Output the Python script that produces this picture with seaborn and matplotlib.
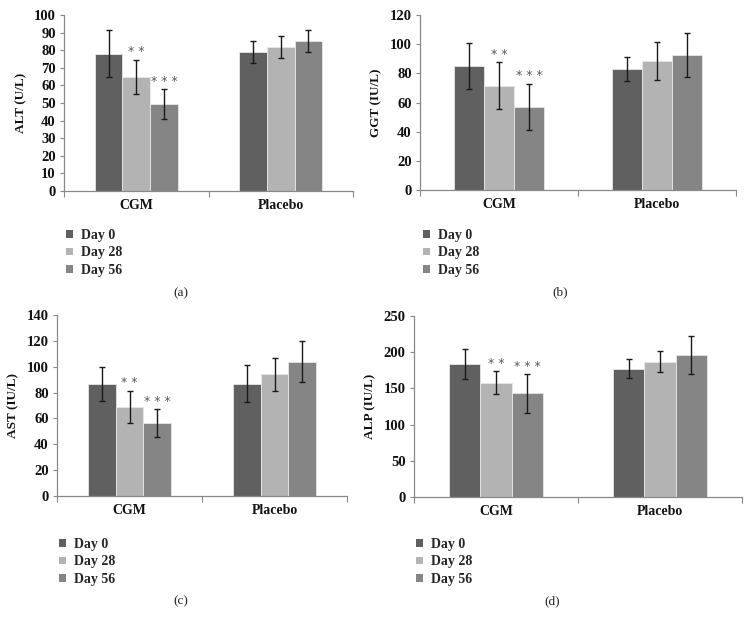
import matplotlib
matplotlib.use("Agg")
import matplotlib.pyplot as plt
import seaborn as sns
import pandas as pd
from matplotlib.patches import Patch

groups = ["CGM", "Placebo"]
days = ["Day 0", "Day 28", "Day 56"]

alt_mean = [78, 65, 49.5, 79, 82, 85]
alt_sd = [13.3, 9.7, 8.5, 6, 6.2, 6.2]
ggt_mean = [85, 71.5, 57, 83, 88.5, 92.5]
ggt_sd = [16, 16, 16, 8.5, 13, 15]
ast_mean = [86.5, 69, 56.5, 87, 94, 104]
ast_sd = [13, 12.5, 10.5, 14.5, 12.5, 16]
alp_mean = [184, 158, 143, 177, 187, 196]
alp_sd = [21, 15.5, 27, 13, 14, 26.5]

sig_marks = ["", "* *", "* * *"]  # CGM only

ylabels = ["ALT (U/L)", "GGT (IU/L)", "AST (IU/L)", "ALP (IU/L)"]
ylims = [100, 120, 140, 250]
ysteps = [10, 20, 20, 50]
captions = ["(a)", "(b)", "(c)", "(d)"]

palette = ["#606060", "#b3b3b3", "#858585"]

sns.set_theme(style="white")
plt.rcParams["font.family"] = ["Liberation Serif", "DejaVu Serif"]

W, H = 750, 626
fig = plt.figure(figsize=(W / 100, H / 100), dpi=100)

# axes boxes in pixels: left, right, top, bottom
boxes = [(64, 353, 15, 191), (420, 736, 15, 190), (57, 347, 315, 496), (414, 742, 316, 497)]
legend_pos = [(59, 222), (416, 222), (52, 531), (409, 531)]
caption_pos = [(181, 293), (560, 292), (181, 601), (552, 601)]

datasets = [(alt_mean, alt_sd), (ggt_mean, ggt_sd), (ast_mean, ast_sd), (alp_mean, alp_sd)]

for k, ((means, sds), box) in enumerate(zip(datasets, boxes)):
    l, r, t, b = box
    ax = fig.add_axes([l / W, 1 - b / H, (r - l) / W, (b - t) / H])
    df = pd.DataFrame({
        "group": [g for g in groups for _ in days],
        "day": [d for _ in groups for d in days],
        "value": means,
        "sd": sds,
    })
    sns.barplot(data=df, x="group", y="value", hue="day", order=groups, hue_order=days,
                palette=palette, width=0.575, errorbar=None, ax=ax, legend=False,
                edgecolor="#e8e8e8", linewidth=0.6, saturation=1)
    bar_conts = list(ax.containers)
    for i, cont in enumerate(bar_conts):
        for j, bar in enumerate(cont):
            row = df[(df.group == groups[j]) & (df.day == days[i])].iloc[0]
            xc = bar.get_x() + bar.get_width() / 2
            ax.errorbar(xc, row.value, yerr=row.sd, fmt="none", ecolor="#1a1a1a",
                        elinewidth=1.0, capsize=2.0, capthick=1.0)
            if j == 0 and sig_marks[i]:
                ax.annotate(sig_marks[i], (xc, row.value + row.sd), xytext=(0, 1.0),
                            textcoords="offset points", ha="center", va="bottom",
                            fontsize=9, color="#5a5a5a", family="DejaVu Sans")
    ax.set_xlim(-0.5, 1.5)
    ax.set_ylim(0, ylims[k])
    ax.set_yticks(range(0, ylims[k] + 1, ysteps[k]))
    ax.set_xticks([0, 1])
    ax.set_xticks([-0.5, 0.5, 1.5], minor=True)
    ax.tick_params(axis="x", which="major", length=0, labelsize=10, pad=6)
    ax.tick_params(axis="x", which="minor", length=4, width=0.8, color="#888888", direction="out", bottom=True)
    ax.tick_params(axis="y", length=3, width=0.8, color="#888888", direction="out", labelsize=10.5, pad=3, left=True)
    for lab in ax.get_xticklabels() + ax.get_yticklabels():
        lab.set_fontweight("bold")
        lab.set_color("#111111")
    for s in ["top", "right"]:
        ax.spines[s].set_visible(False)
    for s in ["left", "bottom"]:
        ax.spines[s].set_color("#888888")
        ax.spines[s].set_linewidth(0.9)
    ax.set_xlabel("")
    ax.set_ylabel(ylabels[k], fontsize=9.5, fontweight="bold", color="#111111", labelpad=5)

    handles = [Patch(facecolor=c, edgecolor="none") for c in palette]
    lx, ly = legend_pos[k]
    fig.legend(handles, days, loc="upper left", bbox_to_anchor=(lx / W, 1 - ly / H),
               frameon=False, borderpad=0, handlelength=0.5, handleheight=0.5,
               handletextpad=0.6, labelspacing=0.32,
               prop={"family": "Liberation Serif", "weight": "bold", "size": 10})
    cx, cy = caption_pos[k]
    fig.text(cx / W, 1 - cy / H, captions[k], ha="center", va="center", fontsize=9.5,
             color="#222222")

fig.savefig("out.png", dpi=100)
